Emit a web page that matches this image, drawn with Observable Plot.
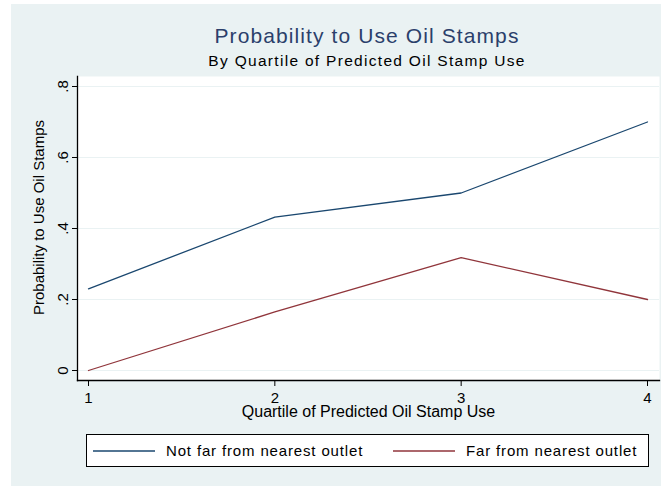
<!DOCTYPE html>
<html>
<head>
<meta charset="utf-8">
<script src="https://cdn.jsdelivr.net/npm/d3@7"></script>
<script src="https://cdn.jsdelivr.net/npm/@observablehq/plot@0.6"></script>
<style>
  body { margin: 0; background: #ffffff; font-family: "Liberation Sans", Arial, sans-serif; }
  #wrap { position: absolute; left: 11px; top: 4px; width: 650px; height: 482px; background: #EAF2F3; overflow: hidden; }
  #title { position: absolute; left: 0; width: 712px; top: 20px; text-align: center; font-size: 21px; color: #2b3f6b; letter-spacing: 1.1px; }
  #subtitle { position: absolute; left: 0; width: 712px; top: 48px; text-align: center; font-size: 15.5px; color: #000; letter-spacing: 1.3px; }
  #chart { position: absolute; left: 0; top: 0; }
  #legend { position: absolute; left: 75px; top: 430px; width: 561px; height: 31px; background: #fff; border: 1px solid #000; }
  .item { position: absolute; top: 0; height: 31px; display: flex; align-items: center; font-size: 15px; letter-spacing: 0.85px; }
</style>
</head>
<body>
<div id="wrap">
  <div id="title"></div>
  <div id="subtitle"></div>
  <div id="chart"></div>
  <div id="legend"></div>
</div>
<script>
const titleText = "Probability to Use Oil Stamps";
const subtitleText = "By Quartile of Predicted Oil Stamp Use";
const xTitle = "Quartile of Predicted Oil Stamp Use";
const yTitle = "Probability to Use Oil Stamps";

const quartiles = [1, 2, 3, 4];
const seriesNames = ["Not far from nearest outlet", "Far from nearest outlet"];
const seriesColors = ["#1a476f", "#90353b"];
const notFarValues = [0.23, 0.432, 0.50, 0.70];
const farValues = [0.0, 0.165, 0.318, 0.20];
const xTicks = [1, 2, 3, 4];
const yTicks = [0, 0.2, 0.4, 0.6, 0.8];

document.getElementById("title").textContent = titleText;
document.getElementById("subtitle").textContent = subtitleText;

const data = [];
quartiles.forEach((q, i) => {
  data.push({ q, v: notFarValues[i], s: seriesNames[0] });
});
quartiles.forEach((q, i) => {
  data.push({ q, v: farValues[i], s: seriesNames[1] });
});

const fmt = d => d === 0 ? "0" : String(+d.toFixed(1)).replace(/^0\./, ".");

const chart = Plot.plot({
  width: 650,
  height: 482,
  marginLeft: 66,
  marginRight: 2,
  marginTop: 72,
  marginBottom: 106,
  style: { background: "transparent", fontFamily: "Liberation Sans, Arial, sans-serif", overflow: "visible" },
  x: { domain: [1, 4], range: [77, 636] },
  y: { domain: [0, 0.8], range: [366, 82] },
  color: { domain: seriesNames, range: seriesColors },
  marks: [
    Plot.frame({ fill: "white", stroke: "none" }),
    Plot.gridY(yTicks, { stroke: "#EAF2F3", strokeOpacity: 1, strokeWidth: 1.2 }),
    Plot.frame({ anchor: "left", stroke: "#000", strokeWidth: 1.3 }),
    Plot.frame({ anchor: "bottom", stroke: "#000", strokeWidth: 1.3 }),
    Plot.axisY({ ticks: yTicks, tickSize: 5, tickFormat: () => "", label: null, stroke: "#000" }),
    Plot.text(yTicks, { y: d => d, frameAnchor: "left", textAnchor: "middle", dx: -14, rotate: -90, text: fmt, fontSize: 15, fill: "#000" }),
    Plot.axisX({ ticks: xTicks, tickSize: 6, tickPadding: 6, tickFormat: d => String(d), label: null, fontSize: 15, stroke: "#000", fill: "#000" }),
    Plot.text([xTitle], { frameAnchor: "bottom", dy: 36, text: d => d, fontSize: 16, fill: "#000", letterSpacing: "1.2px" }),
    Plot.text([yTitle], { frameAnchor: "left", textAnchor: "middle", dx: -38, dy: -11, rotate: -90, text: d => d, fontSize: 15, fill: "#000", letterSpacing: "0.9px" }),
    Plot.line(data, { x: "q", y: "v", z: "s", stroke: "s", strokeWidth: 1.3 })
  ]
});
document.getElementById("chart").appendChild(chart);

// legend
const legend = document.getElementById("legend");
const itemLefts = [6, 306];
seriesNames.forEach((name, i) => {
  const item = document.createElement("div");
  item.className = "item";
  item.style.left = itemLefts[i] + "px";
  item.innerHTML = `<svg width="62" height="4" style="margin-right:11px"><line x1="0" x2="62" y1="2" y2="2" stroke="${seriesColors[i]}" stroke-width="1.3"/></svg><span>${name}</span>`;
  legend.appendChild(item);
});
</script>
</body>
</html>
